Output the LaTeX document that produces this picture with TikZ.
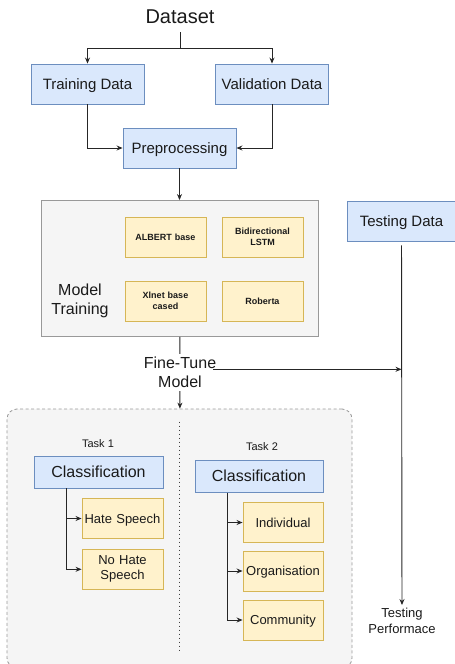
\documentclass[tikz,border=0pt]{standalone}
\usepackage{fontspec}
\setmainfont{Liberation Sans}
\usepackage{xcolor}
\usepackage{tikz}
\usetikzlibrary{arrows.meta, positioning}

\definecolor{boxblue}{HTML}{DAE8FC}
\definecolor{lineblue}{HTML}{6C8EBF}
\definecolor{boxyellow}{HTML}{FFF2CC}
\definecolor{lineyellow}{HTML}{D6B656}
\definecolor{panelgray}{HTML}{F5F5F5}
\definecolor{txt}{HTML}{1A1A1A}

\begin{document}
\begin{tikzpicture}[
  x=1pt, y=-1pt,
  every node/.style={text=txt},
  data/.style={
    rectangle, draw=lineblue, fill=boxblue, line width=0.9pt,
    minimum width=113pt, minimum height=40pt, inner sep=0pt,
    text height=13.5pt, text depth=3pt,
    font=\fontsize{15}{18}\selectfont},
  cls/.style={
    rectangle, draw=lineblue, fill=boxblue, line width=0.9pt,
    minimum width=129pt, minimum height=32pt, inner sep=0pt,
    text height=14.4pt, text depth=3.2pt,
    font=\fontsize{16}{19}\selectfont},
  mdl/.style={
    rectangle, draw=lineyellow, fill=boxyellow, line width=0.9pt,
    minimum width=81pt, minimum height=40pt, inner sep=0pt,
    text width=75pt, align=center,
    text height=8.1pt, text depth=1.8pt,
    font=\fontsize{9}{11}\bfseries\selectfont},
  lbl/.style={
    rectangle, draw=lineyellow, fill=boxyellow, line width=0.9pt,
    minimum width=81pt, minimum height=40pt, inner sep=0pt,
    text width=79pt, align=center,
    text height=11.7pt, text depth=2.6pt,
    font=\fontsize{13}{15}\selectfont},
  multi/.style={text height=, text depth=},
  txtnode/.style={align=center, inner sep=3pt},
  arr/.style={-{Stealth[length=6pt,width=5pt]}, line width=0.9pt, draw=black!85}
]
\useasboundingbox (0,0) rectangle (455,664);

%% Panels
\node[rectangle, draw=black!40, fill=panelgray, line width=0.9pt,
      minimum width=277pt, minimum height=136pt] (mtrain) at (179.5,268.5) {};
\node[rectangle, rounded corners=10pt, draw=black!40, fill=panelgray,
      dash pattern=on 3pt off 2.5pt, line width=0.8pt,
      minimum width=345pt, minimum height=259pt] (tasks) at (179.5,538.5) {};

%% Data nodes
\node[font=\fontsize{20}{24}\selectfont, inner xsep=0pt, inner ysep=8pt]
  (dataset) at (180,17) {Dataset};
\node[data]                  (trn) at (87.5,84)   {Training Data};
\node[data]                  (val) at (272,84)    {Validation Data};
\node[data]                  (pre) at (179.5,148) {Preprocessing};
\node[data, minimum width=109pt] (tst) at (401.5,221) {Testing Data};

%% Models
\node[mdl]        (albert)  at (165.5,237) {ALBERT base};
\node[mdl, multi] (bilstm)  at (262.5,237) {Bidirectional\\LSTM};
\node[mdl, multi] (xlnet)   at (165.5,301) {Xlnet base\\cased};
\node[mdl]        (roberta) at (262.5,301) {Roberta};
\node[txtnode, font=\fontsize{16}{19}\selectfont] (mtlabel) at (80,301) {Model\\Training};

\node[txtnode, font=\fontsize{16}{19}\selectfont] (fine) at (180,372.5) {Fine-Tune\\Model};
\node[txtnode, font=\fontsize{13}{16}\selectfont] (perf) at (402,621) {Testing\\Performace};

%% Tasks
\node[font=\fontsize{11}{13}\selectfont] (task1) at (98,444) {Task 1};
\node[font=\fontsize{11}{13}\selectfont] (task2) at (262,447) {Task 2};
\node[cls] (cls1) at (98.5,472)  {Classification};
\node[cls, minimum width=128pt] (cls2) at (259,476.3) {Classification};
\node[lbl]        (hate)   at (122.5,518.5) {Hate Speech};
\node[lbl, multi] (nohate) at (122.5,569.3) {No Hate\\Speech};
\node[lbl, minimum width=80pt] (indiv) at (283,522.5) {Individual};
\node[lbl, minimum width=80pt] (org)   at (283,571)   {Organisation};
\node[lbl, minimum width=80pt] (com)   at (283,620)   {Community};

\draw[black!75, line width=1.5pt, dash pattern=on 1.5pt off 2.5pt]
  ([yshift=-13pt]tasks.north) -- ([yshift=-244pt]tasks.north);

%% Arrows
\coordinate (split) at (180,48);
\draw[line width=0.9pt, draw=black!85] (dataset) -- (split);
\draw[arr] (split) -| (trn);
\draw[arr] (split) -| (val);
\draw[arr] (trn) |- (pre);
\draw[arr] (val) |- (pre);
\draw[arr] (pre) -- (mtrain);
\draw[line width=0.9pt, draw=black!85] (mtrain) -- (fine);
\draw[arr] (fine) -- (tasks);
\draw[arr, shorten <=4pt] (tst) -- (perf);
\coordinate (ftend) at (213,369.3);
\draw[arr] (ftend) -- (ftend -| tst.south);

\draw[arr] ([xshift=-32.5pt]cls1.south) |- (hate);
\draw[arr] ([xshift=-32.5pt]cls1.south) |- (nohate);
\draw[arr] ([xshift=-32pt]cls2.south) |- (indiv);
\draw[arr] ([xshift=-32pt]cls2.south) |- (org);
\draw[arr] ([xshift=-32pt]cls2.south) |- (com);

\end{tikzpicture}
\end{document}
